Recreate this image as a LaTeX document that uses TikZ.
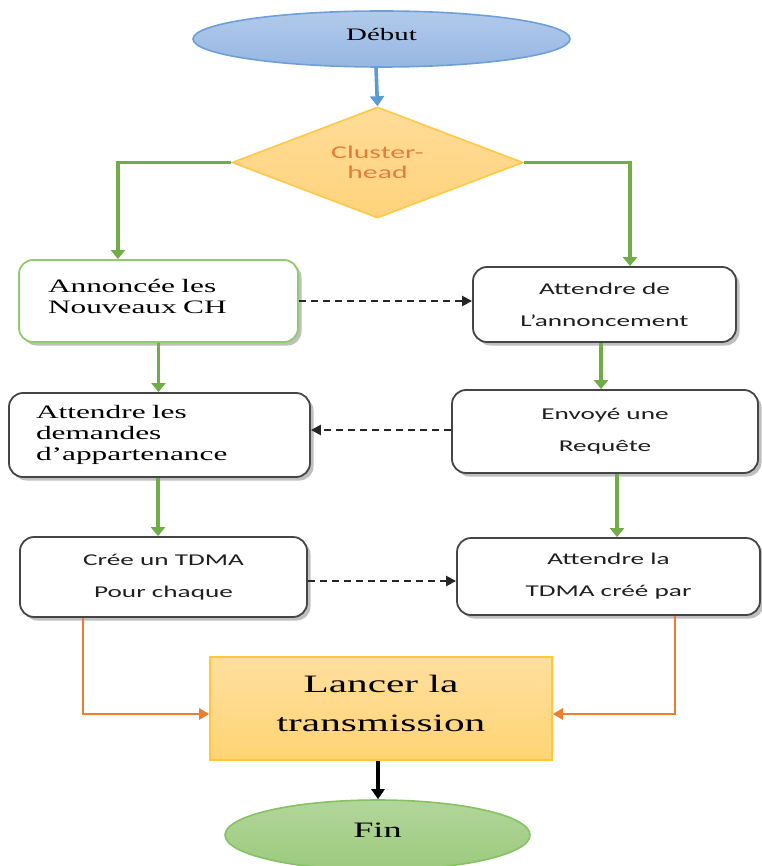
\documentclass[tikz,border=0pt]{standalone}
\usepackage{fontspec}
\setmainfont{Liberation Serif}[FakeStretch=1.65]
\newfontfamily\flowsans{Carlito}[FakeStretch=1.65]
\usetikzlibrary{shapes.geometric,arrows.meta,shadows}

\definecolor{startTop}{HTML}{B2CAEA}
\definecolor{startBot}{HTML}{96B7E3}
\definecolor{startLine}{HTML}{6E9FD8}
\definecolor{flowBlue}{HTML}{5B9BD5}
\definecolor{decTop}{HTML}{FFDC98}
\definecolor{decBot}{HTML}{FFD37C}
\definecolor{decLine}{HTML}{FFC845}
\definecolor{decText}{HTML}{E07E3C}
\definecolor{flowGreen}{HTML}{70AD47}
\definecolor{lightGreen}{HTML}{8FCB6C}
\definecolor{boxLine}{HTML}{454545}
\definecolor{flowOrange}{HTML}{ED7D31}
\definecolor{runTop}{HTML}{FFDF9E}
\definecolor{runBot}{HTML}{FFD474}
\definecolor{runLine}{HTML}{FFC83A}
\definecolor{endTop}{HTML}{B2D69A}
\definecolor{endBot}{HTML}{9CCA7E}
\definecolor{endLine}{HTML}{86C264}

\tikzset{
  stepbox/.style={draw=boxLine, line width=1.8pt, rounded corners=14pt, fill=white,
    inner sep=0pt,
    drop shadow={shadow xshift=3.5pt, shadow yshift=-3.5pt, opacity=0.25, fill=black}},
  sanslabel/.style={font=\flowsans\fontsize{16.5}{32}\selectfont, align=center, text=black!88},
  serifleft/.style={font=\fontsize{19}{21}\selectfont, align=left},
  greenflow/.style={draw=flowGreen, line width=3.4pt, -{Triangle[width=14pt,length=9pt]}},
  orangeflow/.style={draw=flowOrange, line width=2.8pt, -{Triangle[width=11pt,length=10pt]}},
  dashflow/.style={draw=black!85, line width=2.4pt, dash pattern=on 7pt off 5pt,
    -{Triangle[width=10pt,length=10pt]}},
}

\begin{document}
\begin{tikzpicture}[x=1pt,y=-1pt]
\useasboundingbox (0,0) rectangle (761,866);

% start and decision
\node[ellipse, draw=startLine, line width=1.6pt, top color=startTop, bottom color=startBot,
  minimum width=377pt, minimum height=56pt, inner sep=0pt,
  font=\fontsize{17.5}{20}\selectfont, text height=11.6pt, text depth=9pt]
  (debut) at (381.5,39) {Début};

\node[diamond, aspect=2.62, draw=decLine, line width=1.6pt, top color=decTop, bottom color=decBot,
  minimum width=291pt, minimum height=111pt, inner sep=0pt,
  font=\flowsans\fontsize{18}{19.5}\selectfont, text=decText, align=center]
  (ch) at (377.5,162.5) {Cluster-\\head};

% left column (cluster-head side)
\node[stepbox, serifleft, draw=lightGreen, text width=221pt, inner xsep=29pt,
  minimum height=82pt, text depth=31pt]
  (b1) at (158.5,301) {Annoncée les\\Nouveaux CH};

\node[stepbox, serifleft, text width=247pt, inner xsep=27pt, minimum height=84pt]
  (b3) at (159.5,435) {Attendre les\\demandes\\d’appartenance};

\node[stepbox, sanslabel, minimum width=287pt, minimum height=80pt]
  (b5) at (163.5,577) {Crée un TDMA\\Pour chaque};

% right column (member side)
\node[stepbox, sanslabel, minimum width=263pt, minimum height=75pt]
  (b2) at (604.5,304.5) {Attendre de\\L’annoncement};

\node[stepbox, sanslabel, minimum width=306pt, minimum height=83pt]
  (b4) at (605,431.5) {Envoyé une\\Requête};

\node[stepbox, sanslabel, minimum width=303pt, minimum height=77pt]
  (b6) at (608.5,576.5) {Attendre la\\TDMA créé par};

% transmission and end
\node[rectangle, draw=runLine, line width=1.6pt, top color=runTop, bottom color=runBot,
  minimum width=342pt, minimum height=103pt, inner sep=0pt, align=center,
  font=\fontsize{25}{39}\selectfont, text depth=11pt]
  (b7) at (381,708.5) {Lancer la\\transmission};

\node[ellipse, draw=endLine, line width=1.6pt, top color=endTop, bottom color=endBot,
  minimum width=305pt, minimum height=70pt, inner sep=0pt,
  font=\fontsize{22}{24}\selectfont, text height=15pt, text depth=11pt]
  (fin) at (377.5,835) {Fin};

% connectors
\draw[draw=flowBlue, line width=3.6pt, -{Triangle[width=14pt,length=10pt]}]
  ([xshift=-5.5pt]debut.south) -- (ch.north);

\draw[greenflow] (ch.west) -| ([xshift=-40.5pt]b1.north);
\draw[greenflow] (ch.east) -| ([xshift=25.5pt]b2.north);

\draw[dashflow] (b1.east) -- (b1.east -| b2.west);
\draw[greenflow] (b1.south) -- (b1.south |- b3.north);
\draw[greenflow] ([xshift=-3.5pt]b2.south) -- ([xshift=-3.5pt]b2.south |- b4.north);

\draw[dashflow] ([yshift=1.5pt]b4.west) -- ([yshift=1.5pt]b4.west -| b3.east);
\draw[greenflow] ([xshift=-1.5pt]b3.south) -- ([xshift=-1.5pt]b3.south |- b5.north);
\draw[greenflow] ([xshift=12pt]b4.south) -- ([xshift=12pt]b4.south |- b6.north);

\draw[dashflow] ([yshift=-4pt]b5.east) -- ([yshift=-4pt]b5.east -| b6.west);

\draw[orangeflow] ([xshift=-80.5pt]b5.south) |- ([yshift=-5.5pt]b7.west);
\draw[orangeflow] ([xshift=66.5pt]b6.south) |- ([yshift=-5.5pt]b7.east);

\draw[black, line width=3.2pt, -{Triangle[width=13pt,length=10pt]}]
  ([xshift=-3pt]b7.south) -- ([xshift=-3pt]b7.south |- fin.north);
\end{tikzpicture}
\end{document}
